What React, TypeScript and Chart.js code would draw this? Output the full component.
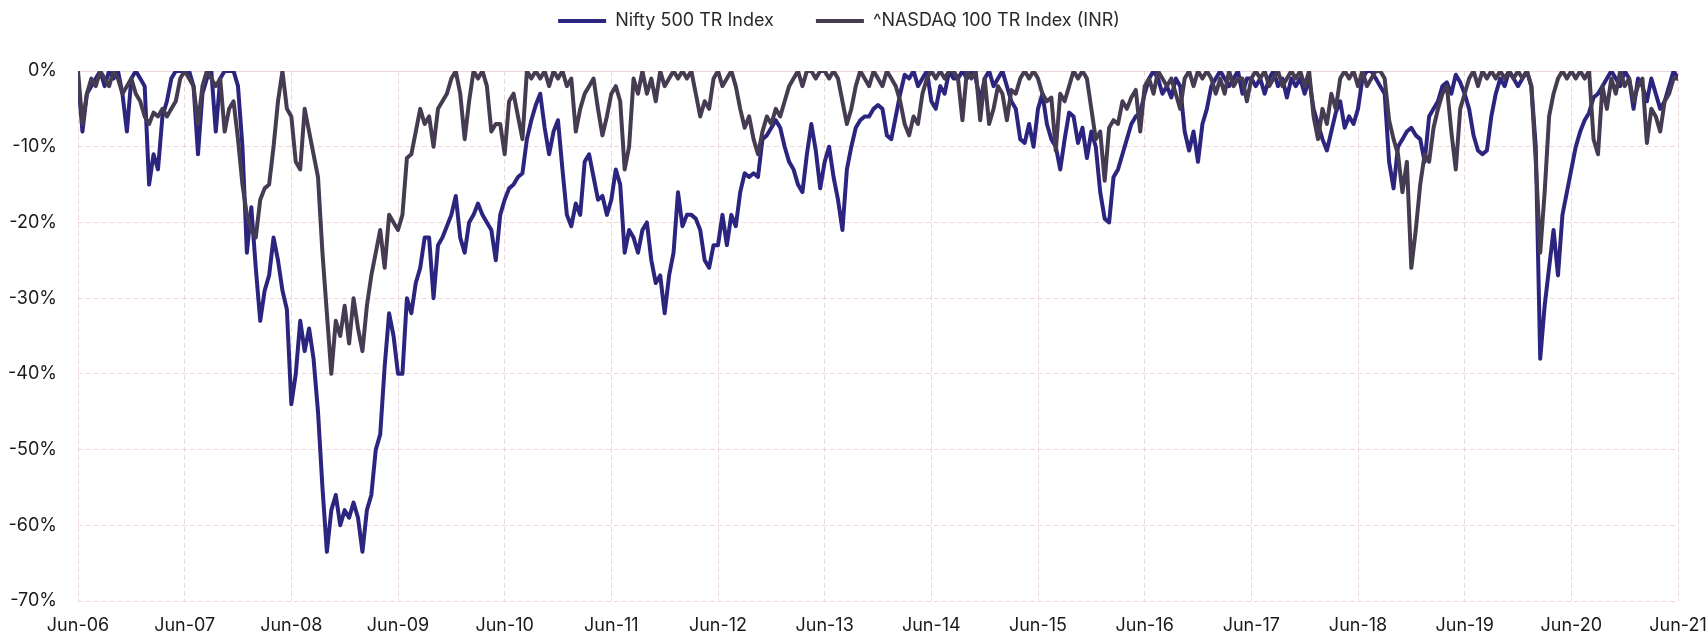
import React, { useEffect, useRef } from "react";
import { Chart, registerables } from "chart.js";

Chart.register(...registerables);

// X axis: months since Jun-06, one point every half month
const xTickLabels = [
  "Jun-06", "Jun-07", "Jun-08", "Jun-09", "Jun-10", "Jun-11", "Jun-12", "Jun-13",
  "Jun-14", "Jun-15", "Jun-16", "Jun-17", "Jun-18", "Jun-19", "Jun-20", "Jun-21",
];
const MONTHS_PER_POINT = 0.5;
const MONTHS_PER_TICK = 12;
const yTickValues = [0, -10, -20, -30, -40, -50, -60, -70];

const seriesNames = ["Nifty 500 TR Index", "^NASDAQ 100 TR Index (INR)"];

// Nifty 500 TR Index drawdown (%), half-monthly, one row per year from June
const nifty06 = [-1, -8, -3, -2, -1, 0, -2, 0, -1, 0, -3, -8, -1, 0, -1, -2, -15, -11, -13, -6, -4, -1, 0, 0];
const nifty07 = [0, 0, -2, -11, -3, -1, 0, -8, -1, 0, 0, 0, -2, -10, -24, -18, -26, -33, -29, -27, -22, -25, -29, -31.5];
const nifty08 = [-44, -40, -33, -37, -34, -38, -45, -55, -63.5, -58, -56, -60, -58, -59, -57, -59, -63.5, -58, -56, -50, -48, -39, -32, -35];
const nifty09 = [-40, -40, -30, -32, -28, -26, -22, -22, -30, -23, -22, -20.5, -19, -16.5, -22, -24, -20, -19, -17.5, -19, -20, -21, -25, -19];
const nifty10 = [-17, -15.5, -15, -14, -13.5, -9, -6.5, -4.5, -3, -7.5, -11, -8, -6.5, -13, -19, -20.5, -17.5, -19, -12, -11, -14, -17, -16.5, -19];
const nifty11 = [-17, -13, -15, -24, -21, -22, -24, -21, -20, -25, -28, -27, -32, -27, -24, -16, -20.5, -19, -19, -19.5, -21, -25, -26, -23];
const nifty12 = [-23, -19, -23, -19, -20.5, -16, -13.5, -14, -13.5, -14, -9, -8.5, -7.5, -6.5, -7.5, -10, -12, -13, -15, -16, -11, -7, -10.5, -15.5];
const nifty13 = [-12, -10, -14, -17, -21, -13, -10, -7.5, -6.5, -6, -6, -5, -4.5, -5, -8.5, -9, -6, -3, -0.5, -1, 0, -2, -1, 0];
const nifty14 = [-4, -5, -2, -3, 0, -1, -1, 0, -1, 0, -1, -4, -1, 0, -2, -1, 0, -2, -4, -5, -9, -9.5, -7, -10];
const nifty15 = [-5, -3, -7, -9, -10, -13, -9, -5.5, -6, -9.5, -7.5, -11.5, -8, -10, -16, -19.5, -20, -14, -13, -11, -9, -7, -6, -5.5];
const nifty16 = [-3, -1, 0, -1, -3, -2, -3.5, -1, -2, -8, -10.5, -8, -12, -7, -5, -2, -1, 0, -1, -2, -1, 0, -3, -1];
const nifty17 = [-1, -2, -1, -3, -1, 0, -2, -1, -3.5, -1, -2, -1, -3, -1, -5, -7, -9, -10.5, -8, -5.5, -4, -7.5, -6, -7];
const nifty18 = [-5, -1, 0, 0, -1, -2, -3, -12, -15.5, -10, -9, -8, -7.5, -8.5, -9, -12, -6, -5, -4, -2, -1.5, -3, -0.5, -1.5];
const nifty19 = [-3, -5, -8.5, -10.5, -11, -10.5, -6, -3, -1, -2, 0, -1, -2, -1, 0, -2, -10, -38, -31, -26, -21, -27, -19, -16];
const nifty20 = [-13, -10, -8, -6.5, -5.5, -3.5, -3, -2, -1, 0, -1, -2, 0, -1, -5, -1, -2, -4, -1, -3, -5, -4, -2, 0, -1];

// ^NASDAQ 100 TR Index (INR) drawdown (%), half-monthly, one row per year from June
const nasdaq06 = [0, -7, -3, -1, -2, 0, -1, -2, 0, -1, -3, -2, -1, -3, -4, -6, -7, -5.5, -6, -5, -6, -5, -4, -1];
const nasdaq07 = [0, -1, -2, -7, -2, 0, -1, -2, -1, -8, -5, -4, -9, -15, -19, -21, -22, -17, -15.5, -15, -10, -4, 0, -5];
const nasdaq08 = [-6, -12, -13, -5, -8, -11, -14, -24, -32, -40, -33, -35, -31, -36, -30, -34, -37, -31, -27, -24, -21, -26, -19, -20];
const nasdaq09 = [-21, -19, -11.5, -11, -8, -5, -7, -6, -10, -5, -4, -3, -1, 0, -3, -9, -4, 0, -1, 0, -2, -8, -7, -7];
const nasdaq10 = [-11, -4, -3, -6, -9, 0, -1, 0, -1, 0, -2, 0, -1, 0, -2, -1, -8, -5, -3, -2, -1, -5, -8.5, -6];
const nasdaq11 = [-3, -2, -4, -13, -10, -1, -3, 0, -3, -1, -4, 0, -2, -1, 0, -1, 0, -1, 0, -3, -6, -4, -5, -1];
const nasdaq12 = [0, -2, -1, 0, -2, -5, -7.5, -6, -9, -11, -8, -6, -7, -5, -6, -4, -2, -1, 0, -2, 0, 0, -1, 0];
const nasdaq13 = [0, -1, 0, -1, -4, -7, -5, -2, 0, -1, -2, 0, -1, -2, 0, -1, -2, -4, -7, -8.5, -6, -7, -3, -1];
const nasdaq14 = [0, -1, 0, -1, 0, 0, -1, -6.5, 0, -1, 0, -6.5, -1, -7, -5, -2, -3, -6.5, -2.5, -3, -1, 0, -1, 0];
const nasdaq15 = [-1, -3, -4, -3.5, -10.5, -3, -4, -2, 0, -1, 0, -1, -5, -9, -8, -14.5, -7.5, -6.5, -7, -4, -5, -3.5, -2.5, -8];
const nasdaq16 = [-2, -1, -3, 0, -1, -2, -1, -3, -5, -1, 0, -2, 0, -1, 0, -1, -3, -1, -3, 0, -2, -1, -1, -4];
const nasdaq17 = [-1, 0, -1, 0, -2, -1, 0, -2, -1, 0, -1, 0, -2, 0, -6, -9, -5, -7, -3, -5, -1, 0, -1, 0];
const nasdaq18 = [-2, 0, -2, -1, 0, 0, -1, -6.5, -9, -11, -16, -12, -26, -21, -15, -11, -12, -7.5, -5, -3, -2, -8, -13, -5];
const nasdaq19 = [-3, -1, 0, -2, 0, -1, 0, -1, 0, -1, 0, -1, 0, -1, 0, -2, -12, -24, -16, -6, -3, -1, 0, -1];
const nasdaq20 = [0, -1, 0, -1, 0, -9, -11, -2, -5, -1, -3, 0, -2, -1, -4, -2, -1, -9.5, -5, -6, -8, -4, -3, -1, -1];

const niftyValues = [
  ...nifty06, ...nifty07, ...nifty08, ...nifty09, ...nifty10, ...nifty11, ...nifty12, ...nifty13,
  ...nifty14, ...nifty15, ...nifty16, ...nifty17, ...nifty18, ...nifty19, ...nifty20,
];
const nasdaqValues = [
  ...nasdaq06, ...nasdaq07, ...nasdaq08, ...nasdaq09, ...nasdaq10, ...nasdaq11, ...nasdaq12, ...nasdaq13,
  ...nasdaq14, ...nasdaq15, ...nasdaq16, ...nasdaq17, ...nasdaq18, ...nasdaq19, ...nasdaq20,
];

const W = 1708;
const H = 637;
const FONT = "Inter, 'Noto Sans', sans-serif";
const GRID = "rgba(225, 188, 193, 0.6)";

const legendShift = {
  id: "legendShift",
  afterLayout(chart: any) {
    const lg = chart.legend;
    if (lg) {
      lg.top -= 31;
      lg.bottom -= 31;
    }
  },
};

export default function App() {
  const ref = useRef<HTMLCanvasElement | null>(null);

  useEffect(() => {
    document.body.style.margin = "0";
    const canvas = ref.current;
    if (!canvas) return;
    const toPoints = (vals: number[]) => vals.map((v, i) => ({ x: i * MONTHS_PER_POINT, y: v }));
    const chart = new Chart(canvas, {
      type: "line",
      data: {
        datasets: [
          {
            label: seriesNames[0],
            data: toPoints(niftyValues),
            borderColor: "#2c2580",
            backgroundColor: "#2c2580",
            borderWidth: 4,
            pointRadius: 0,
            tension: 0,
            borderJoinStyle: "round",
            borderCapStyle: "round",
            order: 1,
          },
          {
            label: seriesNames[1],
            data: toPoints(nasdaqValues),
            borderColor: "#463c52",
            backgroundColor: "#463c52",
            borderWidth: 4,
            pointRadius: 0,
            tension: 0,
            borderJoinStyle: "round",
            borderCapStyle: "round",
            order: 0,
          },
        ],
      },
      options: {
        animation: false,
        responsive: false,
        devicePixelRatio: 1,
        layout: { padding: { top: 1, right: 30, left: 0, bottom: 0 } },
        plugins: {
          tooltip: { enabled: false },
          legend: {
            position: "top",
            labels: {
              usePointStyle: true,
              pointStyle: "line",
              pointStyleWidth: 48,
              padding: 42,
              color: "#2a2a2a",
              font: { family: FONT, size: 18 },
              sort: (a: any, b: any) => a.datasetIndex - b.datasetIndex,
            },
          },
        },
        scales: {
          x: {
            type: "linear",
            min: 0,
            max: (xTickLabels.length - 1) * MONTHS_PER_TICK,
            afterFit: (scale: any) => {
              scale.height = 36;
              scale.paddingLeft = 0;
              scale.paddingRight = 0;
            },
            ticks: {
              stepSize: MONTHS_PER_TICK,
              autoSkip: false,
              maxRotation: 0,
              padding: 14,
              color: "#1a1a1a",
              font: { family: FONT, size: 18 },
              callback: (v: any) => xTickLabels[Math.round(Number(v) / MONTHS_PER_TICK)] ?? "",
            },
            grid: { color: GRID, lineWidth: 1, drawTicks: false },
            border: { display: false, dash: [5, 3] },
          },
          y: {
            min: yTickValues[yTickValues.length - 1],
            max: yTickValues[0],
            afterFit: (scale: any) => {
              scale.width = 78;
            },
            ticks: {
              stepSize: 10,
              padding: 21,
              color: "#1a1a1a",
              font: { family: FONT, size: 18 },
              callback: (v: any) => `${v}%`,
            },
            grid: { color: GRID, lineWidth: 1, drawTicks: false },
            border: {
              display: false,
              dash: (ctx: any) => (ctx.tick && ctx.tick.value === 0 ? [] : [5, 3]),
            },
          },
        },
      },
      plugins: [legendShift],
    });
    return () => chart.destroy();
  }, []);

  return (
    <div style={{ position: "fixed", left: 0, top: 0, width: W, height: H, background: "#fff" }}>
      <canvas ref={ref} width={W} height={H} style={{ width: W, height: H, display: "block" }} />
    </div>
  );
}
